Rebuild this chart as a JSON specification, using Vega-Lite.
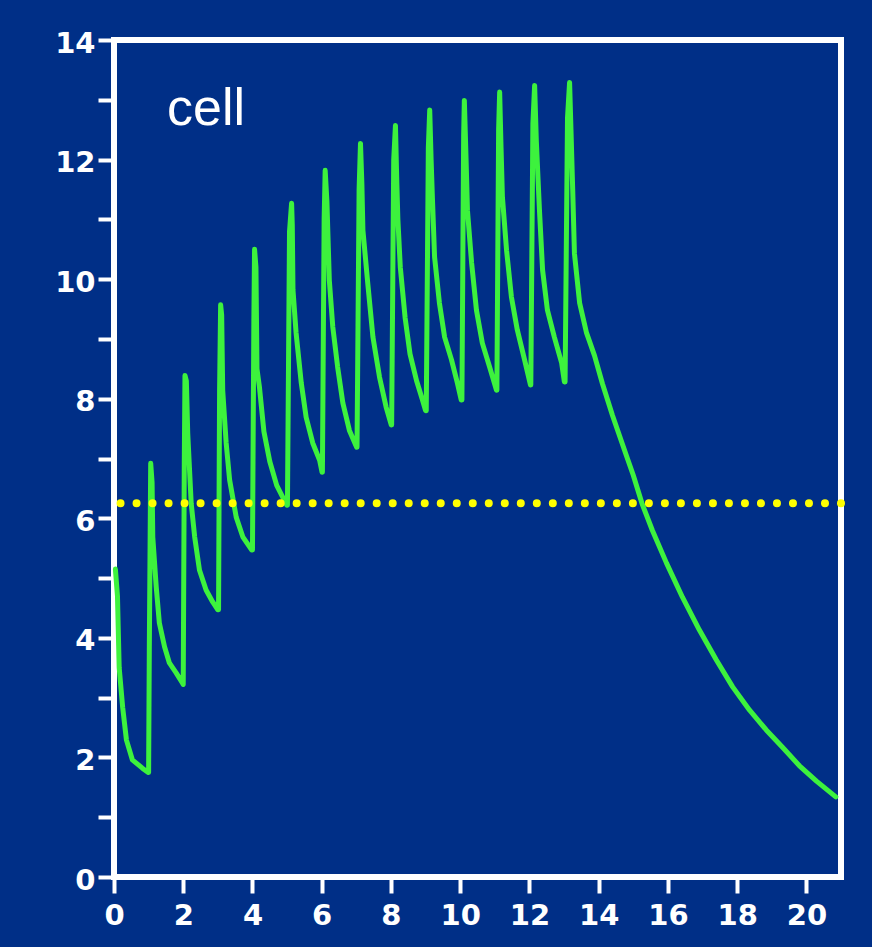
{
  "$schema": "https://vega.github.io/schema/vega-lite/v6.json",
  "width": 727,
  "height": 837,
  "autosize": {"type": "none"},
  "padding": {"left": 114, "top": 40, "right": 31, "bottom": 70},
  "background": "#002f87",
  "config": {"view": {"stroke": "#ffffff", "strokeWidth": 6, "fill": null}},
  "datasets": {
    "curve": [
      {"t": 0.04, "v": 5.15}, {"t": 0.1, "v": 4.7}, {"t": 0.15, "v": 3.5}, {"t": 0.25, "v": 2.84}, {"t": 0.36, "v": 2.29}, {"t": 0.53, "v": 1.96}, {"t": 0.82, "v": 1.82}, {"t": 0.98, "v": 1.75},
      {"t": 1.0, "v": 1.75}, {"t": 1.02, "v": 3.8}, {"t": 1.06, "v": 6.92}, {"t": 1.1, "v": 6.6}, {"t": 1.12, "v": 5.69}, {"t": 1.22, "v": 4.85}, {"t": 1.31, "v": 4.25}, {"t": 1.46, "v": 3.85}, {"t": 1.6, "v": 3.58}, {"t": 1.8, "v": 3.41}, {"t": 1.98, "v": 3.24},
      {"t": 2.0, "v": 3.22}, {"t": 2.03, "v": 6.9}, {"t": 2.05, "v": 8.39}, {"t": 2.09, "v": 8.3}, {"t": 2.13, "v": 7.42}, {"t": 2.23, "v": 6.25}, {"t": 2.33, "v": 5.69}, {"t": 2.47, "v": 5.13}, {"t": 2.66, "v": 4.8}, {"t": 2.85, "v": 4.6}, {"t": 3.0, "v": 4.47},
      {"t": 3.02, "v": 4.47}, {"t": 3.05, "v": 8.14}, {"t": 3.08, "v": 9.57}, {"t": 3.11, "v": 9.4}, {"t": 3.14, "v": 8.14}, {"t": 3.24, "v": 7.26}, {"t": 3.34, "v": 6.64}, {"t": 3.53, "v": 6.02}, {"t": 3.72, "v": 5.69}, {"t": 3.98, "v": 5.47},
      {"t": 4.0, "v": 5.47}, {"t": 4.04, "v": 9.3}, {"t": 4.06, "v": 10.5}, {"t": 4.1, "v": 10.2}, {"t": 4.13, "v": 8.5}, {"t": 4.2, "v": 8.2}, {"t": 4.33, "v": 7.45}, {"t": 4.5, "v": 6.95}, {"t": 4.7, "v": 6.55}, {"t": 4.99, "v": 6.22},
      {"t": 5.01, "v": 6.22}, {"t": 5.07, "v": 10.8}, {"t": 5.13, "v": 11.27}, {"t": 5.15, "v": 10.9}, {"t": 5.17, "v": 9.82}, {"t": 5.26, "v": 9.1}, {"t": 5.41, "v": 8.26}, {"t": 5.55, "v": 7.69}, {"t": 5.74, "v": 7.26}, {"t": 5.94, "v": 6.97}, {"t": 6.01, "v": 6.77},
      {"t": 6.02, "v": 6.77}, {"t": 6.07, "v": 11.0}, {"t": 6.1, "v": 11.82}, {"t": 6.15, "v": 11.3}, {"t": 6.22, "v": 9.98}, {"t": 6.32, "v": 9.2}, {"t": 6.46, "v": 8.53}, {"t": 6.61, "v": 7.93}, {"t": 6.8, "v": 7.47}, {"t": 7.01, "v": 7.19},
      {"t": 7.02, "v": 7.19}, {"t": 7.08, "v": 11.5}, {"t": 7.12, "v": 12.27}, {"t": 7.16, "v": 11.6}, {"t": 7.19, "v": 10.82}, {"t": 7.33, "v": 9.93}, {"t": 7.48, "v": 9.03}, {"t": 7.67, "v": 8.36}, {"t": 7.86, "v": 7.86}, {"t": 8.01, "v": 7.56},
      {"t": 8.02, "v": 7.56}, {"t": 8.08, "v": 12.0}, {"t": 8.13, "v": 12.57}, {"t": 8.17, "v": 11.6}, {"t": 8.2, "v": 11.0}, {"t": 8.27, "v": 10.2}, {"t": 8.41, "v": 9.35}, {"t": 8.55, "v": 8.75}, {"t": 8.74, "v": 8.3}, {"t": 8.9, "v": 8.0}, {"t": 9.0, "v": 7.8},
      {"t": 9.02, "v": 7.8}, {"t": 9.08, "v": 12.2}, {"t": 9.12, "v": 12.83}, {"t": 9.16, "v": 12.0}, {"t": 9.2, "v": 11.32}, {"t": 9.26, "v": 10.37}, {"t": 9.4, "v": 9.6}, {"t": 9.55, "v": 9.03}, {"t": 9.75, "v": 8.65}, {"t": 9.92, "v": 8.26}, {"t": 10.03, "v": 7.98},
      {"t": 10.05, "v": 7.98}, {"t": 10.1, "v": 12.4}, {"t": 10.12, "v": 12.99}, {"t": 10.17, "v": 12.0}, {"t": 10.21, "v": 11.15}, {"t": 10.33, "v": 10.27}, {"t": 10.47, "v": 9.48}, {"t": 10.64, "v": 8.93}, {"t": 10.85, "v": 8.53}, {"t": 11.05, "v": 8.14},
      {"t": 11.06, "v": 8.14}, {"t": 11.11, "v": 12.5}, {"t": 11.14, "v": 13.13}, {"t": 11.18, "v": 12.2}, {"t": 11.22, "v": 11.37}, {"t": 11.34, "v": 10.48}, {"t": 11.48, "v": 9.7}, {"t": 11.65, "v": 9.15}, {"t": 11.86, "v": 8.65}, {"t": 12.03, "v": 8.23},
      {"t": 12.04, "v": 8.23}, {"t": 12.1, "v": 12.6}, {"t": 12.15, "v": 13.24}, {"t": 12.2, "v": 12.3}, {"t": 12.29, "v": 11.15}, {"t": 12.38, "v": 10.15}, {"t": 12.52, "v": 9.48}, {"t": 12.72, "v": 9.03}, {"t": 12.93, "v": 8.6}, {"t": 13.01, "v": 8.28},
      {"t": 13.03, "v": 8.28}, {"t": 13.1, "v": 12.7}, {"t": 13.16, "v": 13.29}, {"t": 13.2, "v": 12.5}, {"t": 13.25, "v": 11.5}, {"t": 13.3, "v": 10.43}, {"t": 13.45, "v": 9.6}, {"t": 13.65, "v": 9.1}, {"t": 13.88, "v": 8.72}, {"t": 14.11, "v": 8.25}, {"t": 14.4, "v": 7.72}, {"t": 14.8, "v": 7.05}, {"t": 15.0, "v": 6.72}, {"t": 15.25, "v": 6.25}, {"t": 15.55, "v": 5.8}, {"t": 15.96, "v": 5.25}, {"t": 16.42, "v": 4.68}, {"t": 16.91, "v": 4.13}, {"t": 17.4, "v": 3.63}, {"t": 17.87, "v": 3.18}, {"t": 18.36, "v": 2.79}, {"t": 18.84, "v": 2.46}, {"t": 19.31, "v": 2.17}, {"t": 19.8, "v": 1.86}, {"t": 20.3, "v": 1.6}, {"t": 20.85, "v": 1.34}
    ]
  },
  "layer": [
    {
      "data": {"name": "curve"},
      "mark": {"type": "line", "color": "#3df23d", "strokeWidth": 5, "strokeJoin": "round", "strokeCap": "round"},
      "encoding": {
        "x": {
          "field": "t", "type": "quantitative",
          "scale": {"domain": [0, 21], "nice": false, "zero": false},
          "axis": {
            "title": null, "grid": false,
            "values": [0,1,2,3,4,5,6,7,8,9,10,11,12,13,14,15,16,17,18,19,20,21],
            "labelExpr": "datum.value % 2 == 0 && datum.value <= 20 ? datum.value : ''",
            "domainColor": "#ffffff", "domainWidth": 5,
            "tickColor": "#ffffff", "tickWidth": 4, "tickSize": 16,
            "labelColor": "#ffffff", "labelFont": "DejaVu Sans", "labelFontWeight": "bold", "labelFontSize": 29,
            "labelPadding": 8, "labelFlush": false, "labelOverlap": false
          }
        },
        "y": {
          "field": "v", "type": "quantitative",
          "scale": {"domain": [0, 14], "nice": false},
          "axis": {
            "title": null, "grid": false,
            "values": [0,1,2,3,4,5,6,7,8,9,10,11,12,13,14],
            "labelExpr": "datum.value % 2 == 0 ? datum.value : ''",
            "domainColor": "#ffffff", "domainWidth": 5,
            "tickColor": "#ffffff", "tickWidth": 4, "tickSize": 16,
            "labelColor": "#ffffff", "labelFont": "DejaVu Sans", "labelFontWeight": "bold", "labelFontSize": 29,
            "labelPadding": 3, "labelOffset": 3, "labelFlush": false, "labelOverlap": false
          }
        }
      }
    },
    {
      "data": {"values": [{"level": 6.25}]},
      "mark": {"type": "rule", "color": "#ffff00", "strokeWidth": 8, "strokeDash": [0.01, 16], "strokeCap": "round"},
      "encoding": {"y": {"field": "level", "type": "quantitative"}}
    },
    {
      "data": {"values": [{"t": 1.53, "v": 12.58, "label": "cell"}]},
      "mark": {"type": "text", "align": "left", "baseline": "alphabetic", "font": "Liberation Sans", "fontSize": 52, "color": "#ffffff"},
      "encoding": {
        "x": {"field": "t", "type": "quantitative"},
        "y": {"field": "v", "type": "quantitative"},
        "text": {"field": "label"}
      }
    }
  ]
}
